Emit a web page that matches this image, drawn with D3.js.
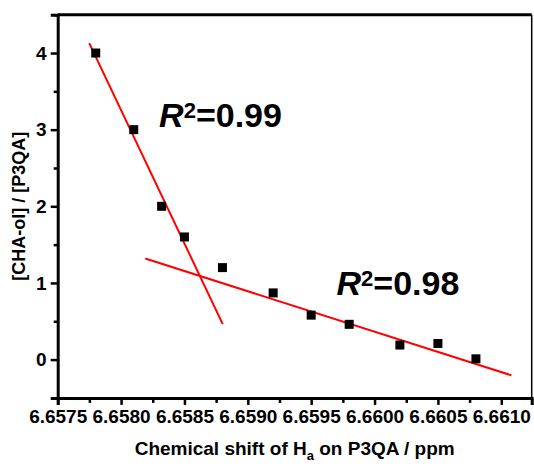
<!DOCTYPE html>
<html>
<head>
<meta charset="utf-8">
<script src="https://cdn.jsdelivr.net/npm/d3@7"></script>
<style>
  body { margin: 0; background: #fff; }
  svg { display: block; font-family: "Liberation Sans", Arial, sans-serif; font-weight: bold; }
</style>
</head>
<body>
<svg id="chart" width="534" height="464"></svg>
<script>
// data
var shift = [6.6578, 6.6581, 6.65832, 6.6585, 6.6588, 6.6592, 6.6595, 6.6598, 6.6602, 6.6605, 6.6608]
var ratio = [4.0, 3.0, 2.0, 1.6, 1.2, 0.87, 0.58, 0.46, 0.19, 0.21, 0.01]

// fitted lines, end points in data units
var fit1 = [[6.657749, 4.13], [6.658802, 0.463]]
var fit2 = [[6.658191, 1.319], [6.66108, -0.206]]

var xTicks = [6.6575, 6.6580, 6.6585, 6.6590, 6.6595, 6.6600, 6.6605, 6.6610]
var xMinor = [6.65775, 6.65825, 6.65875, 6.65925, 6.65975, 6.66025, 6.66075]
var yTicks = [0, 1, 2, 3, 4]
var yMinor = [-0.5, 0.5, 1.5, 2.5, 3.5, 4.5]

var labels = [
  { x: 6.6583, y: 3.03, text: '=0.99' },
  { x: 6.6597, y: 0.84, text: '=0.98' }
]

var mLeft = 57.7, mTop = 14.7, mRight = 531.7, mBottom = 397.9

var svg = d3.select('#chart')
var x = d3.scaleLinear().domain([6.6575, 6.66124]).range([mLeft, mRight])
var y = d3.scaleLinear().domain([-0.5, 4.5]).range([mBottom, mTop])

// frame: top + right
svg.append('line')
  .attr('x1', mLeft).attr('x2', mRight).attr('y1', mTop).attr('y2', mTop)
  .attr('stroke', '#000').attr('stroke-width', 3)
svg.append('line')
  .attr('x1', mRight).attr('x2', mRight).attr('y1', mTop).attr('y2', mBottom)
  .attr('stroke', '#000').attr('stroke-width', 1.5)

// minor ticks
var gxm = svg.append('g').attr('transform', 'translate(0,' + mBottom + ')')
  .call(d3.axisBottom(x).tickValues(xMinor).tickSize(5).tickFormat(''))
var gym = svg.append('g').attr('transform', 'translate(' + mLeft + ',0)')
  .call(d3.axisLeft(y).tickValues(yMinor).tickSize(4).tickFormat(''))

var gx = svg.append('g').attr('transform', 'translate(0,' + mBottom + ')')
  .call(d3.axisBottom(x).tickValues(xTicks).tickSize(7).tickPadding(5).tickFormat(d3.format('.4f')))
var gy = svg.append('g').attr('transform', 'translate(' + mLeft + ',0)')
  .call(d3.axisLeft(y).tickValues(yTicks).tickSize(7).tickPadding(4).tickFormat(d3.format('d')))

svg.selectAll('.domain').attr('stroke', '#000').attr('stroke-width', 3)
svg.selectAll('.tick line').attr('stroke', '#000').attr('stroke-width', 2.5)
gxm.select('.domain').remove()
gym.select('.domain').remove()
svg.selectAll('.tick text')
  .attr('fill', '#000')
  .style('font-size', '19px')
  .style('font-family', '"Liberation Sans", Arial, sans-serif')
  .style('font-weight', 'bold')

// fit lines
var line = d3.line().x(function (d) { return x(d[0]) }).y(function (d) { return y(d[1]) })
;[fit1, fit2].forEach(function (f) {
  svg.append('path').attr('d', line(f))
    .attr('fill', 'none').attr('stroke', '#ff0000').attr('stroke-width', 2)
})

// points
var sz = 9
svg.append('g').selectAll('rect')
  .data(shift)
  .enter().append('rect')
  .attr('x', function (d) { return x(d) - sz / 2 })
  .attr('y', function (d, i) { return y(ratio[i]) - sz / 2 })
  .attr('width', sz).attr('height', sz)
  .attr('fill', '#000')

// R^2 labels
labels.forEach(function (l) {
  var t = svg.append('text')
    .attr('x', x(l.x)).attr('y', y(l.y))
    .style('font-size', '34px')
  t.append('tspan').style('font-style', 'italic').text('R')
  t.append('tspan').style('font-size', '22px').attr('dy', -9).text('2')
  t.append('tspan').attr('dy', 9).text(l.text)
})

// axis titles
var xt = svg.append('text')
  .attr('x', (mLeft + mRight) / 2).attr('y', 455)
  .attr('text-anchor', 'middle')
  .style('font-size', '19px')
xt.append('tspan').text('Chemical shift of H')
xt.append('tspan').style('font-size', '13px').attr('dy', 5).text('a')
xt.append('tspan').attr('dy', -5).text(' on P3QA / ppm')

svg.append('text')
  .attr('transform', 'translate(25,' + (mTop + mBottom) / 2 + ') rotate(-90)')
  .attr('text-anchor', 'middle')
  .style('font-size', '18px')
  .text('[CHA-ol] / [P3QA]')
</script>
</body>
</html>
